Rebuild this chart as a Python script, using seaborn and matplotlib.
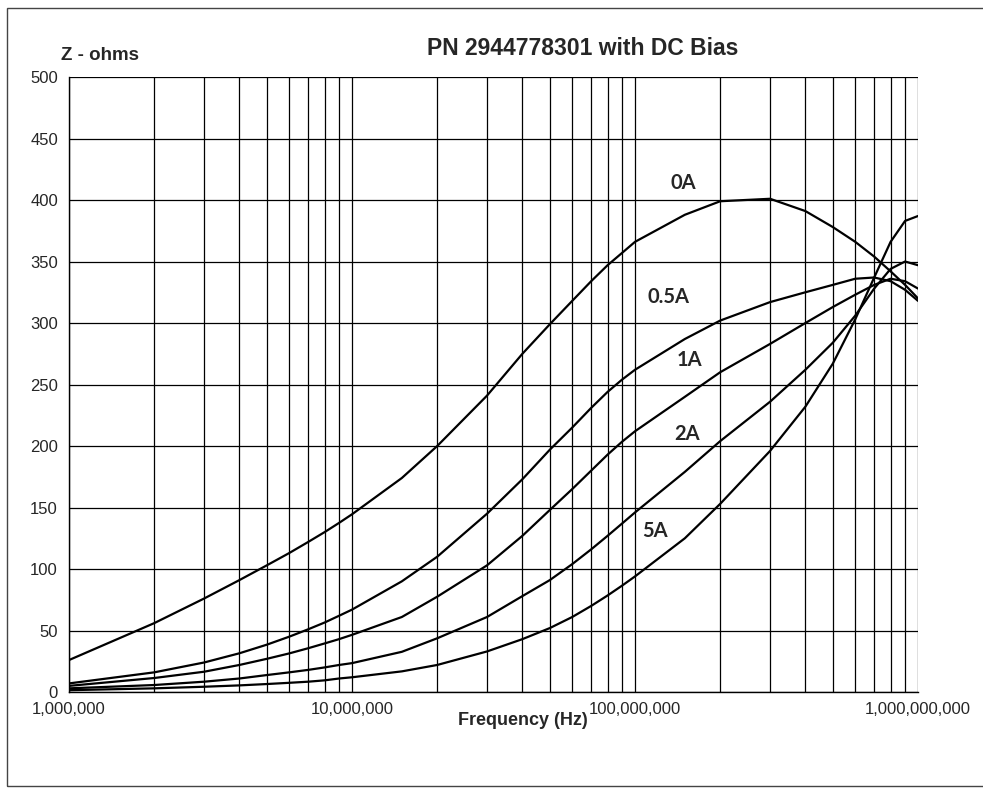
import numpy as np
import pandas as pd
import matplotlib
matplotlib.use("Agg")
import matplotlib.pyplot as plt
import matplotlib.ticker as mticker
import seaborn as sns

# frequency points (Hz)
freq = [1e6, 2e6, 3e6, 4e6, 5e6, 6e6, 7e6, 8e6, 9e6,
        1e7, 1.5e7, 2e7, 3e7, 4e7, 5e7, 6e7, 7e7, 8e7, 9e7,
        1e8, 1.5e8, 2e8, 3e8, 4e8, 5e8, 6e8, 7e8, 8e8, 9e8, 1e9]

# impedance (ohms) per DC bias current
z_0a = [26, 56, 76, 91, 103, 113, 122, 130, 137.5,
        144.5, 174, 200, 241, 275, 299, 318, 334, 347, 357,
        366, 388, 399, 401, 391, 378, 366, 354, 342, 331, 320]
z_05a = [7, 16, 24, 31.5, 38.5, 45, 51, 56.5, 62,
         67, 90, 110, 145, 173, 197, 215, 231, 244, 254,
         262, 287, 302, 317, 325, 331, 336, 337, 334, 327, 318]
z_1a = [5, 11.4, 16.5, 22, 27, 31.4, 35.6, 39.5, 43,
        46.5, 61, 77.5, 103, 127, 148, 165, 180, 193, 203.5,
        212, 240, 260, 283, 300, 313, 323, 331, 336, 334, 328]
z_2a = [3, 5.7, 8.4, 11, 13.8, 16, 18, 20, 22,
        23.5, 32.7, 43.7, 61, 78, 91, 104, 116, 127, 137,
        146, 179, 204, 236, 262, 284, 306, 328, 344, 350, 347]
z_5a = [1.5, 3, 4.3, 5.4, 6.5, 7.5, 8.4, 9.5, 11,
        12, 16.8, 22, 33, 43, 52, 61, 70, 78.5, 86.5,
        94, 125, 153, 196, 232, 267, 303, 337, 366, 383, 387]

labels = ["0A", "0.5A", "1A", "2A", "5A"]
series = [z_0a, z_05a, z_1a, z_2a, z_5a]
# where each curve label sits (freq, ohms)
label_x = [1.48e8, 1.31e8, 1.56e8, 1.53e8, 1.18e8]
label_y = [414, 321, 270, 210, 131]

rows = []
for lab, vals in zip(labels, series):
    for f, z in zip(freq, vals):
        rows.append({"Frequency": f, "Z": z, "Bias": lab})
df = pd.DataFrame(rows)

sns.set_style("white")
plt.rcParams["font.family"] = ["Liberation Sans", "DejaVu Sans"]

fig = plt.figure(figsize=(9.83, 7.89), dpi=100)
ax = fig.add_axes([0.0702, 0.1229, 0.8637, 0.7795])

sns.lineplot(data=df, x="Frequency", y="Z", hue="Bias",
             palette=["black"] * 5, linewidth=1.6, legend=False, ax=ax)

ax.set_xscale("log")
ax.set_xlim(1e6, 1e9)
ax.set_ylim(0, 500)
ax.set_yticks(np.arange(0, 501, 50))
ax.xaxis.set_major_locator(mticker.LogLocator(base=10, numticks=10))
ax.xaxis.set_minor_locator(mticker.LogLocator(base=10, subs=np.arange(2, 10), numticks=20))
ax.xaxis.set_major_formatter(mticker.FuncFormatter(lambda v, p: f"{v:,.0f}"))
ax.xaxis.set_minor_formatter(mticker.NullFormatter())

ax.grid(True, which="major", color="black", linewidth=0.9)
ax.grid(True, which="minor", axis="x", color="black", linewidth=0.9)
ax.tick_params(axis="both", which="major", direction="out", length=5,
               width=0.9, color="black", labelsize=12, pad=3)
ax.tick_params(axis="x", which="minor", length=0)
ax.tick_params(axis="x", which="major", pad=2)

for side in ["top", "right"]:
    ax.spines[side].set_visible(False)
for side in ["left", "bottom"]:
    ax.spines[side].set_color("black")
    ax.spines[side].set_linewidth(1.0)

ax.set_xlabel("Frequency (Hz)", fontsize=13, fontweight="bold")
ax.xaxis.label.set_va("center")
ax.xaxis.set_label_coords(0.535, -0.047)
ax.set_ylabel("")

for lab, lx, ly in zip(labels, label_x, label_y):
    ax.text(lx, ly, lab, fontsize=14.5, fontweight="bold", family=["Lato", "DejaVu Sans"],
            ha="center", va="center")

fig.text(0.593, 0.939, "PN 2944778301 with DC Bias", fontsize=16.5,
         fontweight="bold", ha="center", va="center")
fig.text(0.062, 0.930, "Z - ohms", fontsize=13.5, fontweight="bold",
         ha="left", va="center")

# outer chart frame
frame = plt.Rectangle((0.007, 0.004), 1.1, 0.986, transform=fig.transFigure,
                      fill=False, edgecolor="#444444", linewidth=1.0)
fig.patches.append(frame)

fig.savefig("out.png", dpi=100)
